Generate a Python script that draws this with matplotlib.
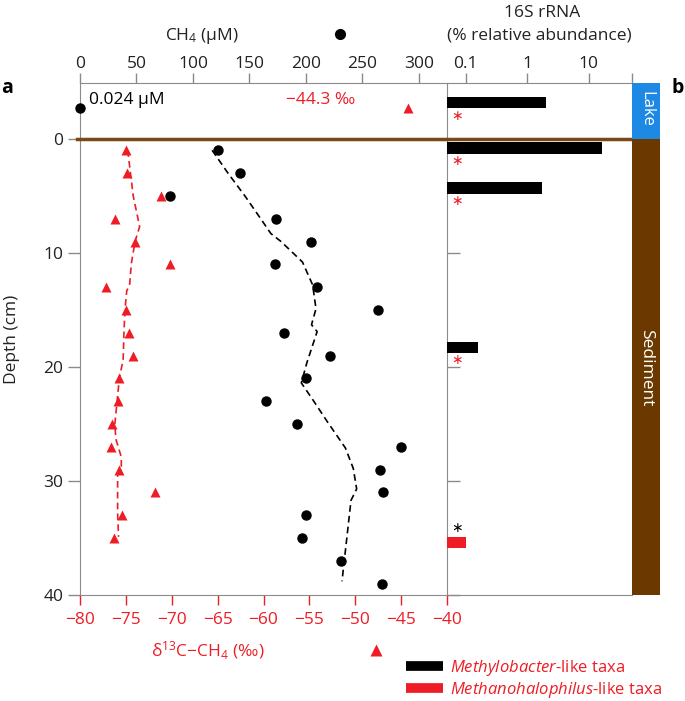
import matplotlib
matplotlib.use('Agg')
import matplotlib.pyplot as plt
from matplotlib.lines import Line2D

plt.rcParams['font.family'] = ['Open Sans', 'DejaVu Sans']
plt.rcParams['mathtext.fontset'] = 'custom'
plt.rcParams['mathtext.rm'] = 'Open Sans'
plt.rcParams['mathtext.it'] = 'Open Sans:italic'
plt.rcParams['mathtext.bf'] = 'Open Sans:bold'
plt.rcParams['axes.unicode_minus'] = True

# ---------------- data ----------------
# lake water sample
lake_depth = [-2.7]
lake_ch4 = [0.024]
lake_d13c = [-44.3]

# CH4 concentration (uM) vs depth (cm)
ch4_depth = [1, 3, 5, 7, 9, 11, 13, 15, 17, 19, 21, 23, 25, 27, 29, 31, 33, 35, 37, 39]
ch4_conc = [122, 142, 80, 174, 205, 173, 210, 264, 181, 221, 200, 165, 192, 284, 266, 268, 200, 197, 231, 267]

# CH4 running trend (dashed black)
ch4_trend_depth = [1, 3, 5, 7, 8.3, 9, 10.8, 12.8, 14.9, 16.3, 16.9, 19.6, 21.4, 23, 24.8, 27.1, 28.9, 30.7, 31.7, 38.8]
ch4_trend = [117, 131, 146, 160, 169, 178, 197, 206, 209, 205, 210, 201, 196, 207, 219, 235, 242, 245, 240, 232]

# d13C-CH4 (permil) vs depth
d13c_depth = [1, 3, 5, 7, 9, 11, 13, 15, 17, 19, 21, 23, 25, 27, 29, 31, 33, 35]
d13c = [-75.0, -74.9, -71.2, -76.2, -74.0, -70.2, -77.2, -75.0, -74.7, -74.2,
        -75.8, -75.9, -76.5, -76.6, -75.8, -71.8, -75.4, -76.3]

# d13C running trend (dashed red)
d13c_trend_depth = [1, 5, 7.7, 9, 10.9, 12.9, 13.3, 15, 16.8, 19.4, 20.9, 25, 26.3, 27.9, 28.7, 29.5, 32.8, 34.9]
d13c_trend = [-74.8, -74.2, -73.5, -74.0, -74.4, -74.6, -74.9, -75.1, -75.2, -75.3,
              -75.7, -76.2, -76.1, -75.5, -75.5, -75.9, -75.9, -75.8]

# 16S rRNA relative abundance (%)
mb_depth = [-3.2, 0.8, 4.3, 18.3]
mb_abund = [2.0, 16.5, 1.75, 0.16]
mh_depth = [35.4]
mh_abund = [0.1]
star_red_depth = [-1.95, 2.0, 5.5, 19.4]
star_black_depth = [34.2]

ch4_ticks = [0, 50, 100, 150, 200, 250, 300]
d13c_ticks = [-80, -75, -70, -65, -60, -55, -50, -45, -40]
depth_ticks = [0, 10, 20, 30, 40]
rrna_ticks = [0.1, 1, 10, 50]
rrna_ticklabels = ['0.1', '1', '10', '']

# ---------------- style ----------------
RED = '#EE1C25'
GRAY = '#8a8a8a'
TXT = '#222222'
BROWN = '#6B3800'
BROWN_LINE = '#7A4716'
LAKE = '#1E88E5'
FS = 12.5

W, H = 685, 701
fig = plt.figure(figsize=(W / 100, H / 100), dpi=100)


def fx(px):
    return px / W


def fy(py):
    return 1 - py / H


Y_TOP, Y_BOT = 83, 595
ax = fig.add_axes([fx(80), fy(Y_BOT), fx(447) - fx(80), fy(Y_TOP) - fy(Y_BOT)])
axb = fig.add_axes([fx(447), fy(Y_BOT), fx(632) - fx(447), fy(Y_TOP) - fy(Y_BOT)])
axc = fig.add_axes([fx(632), fy(Y_BOT), fx(660) - fx(632), fy(Y_TOP) - fy(Y_BOT)])

YLIM = (40, -4.9)

# ---- main panel: d13C (bottom axis) ----
ax.set_xlim(-80, -40)
ax.set_ylim(*YLIM)
ax.plot(d13c_trend, d13c_trend_depth, color=RED, lw=1.2, ls=(0, (4, 2.5)), zorder=2)
ax.plot(d13c, d13c_depth, '^', color=RED, ms=7.5, mec='none', zorder=3)
ax.plot(lake_d13c, lake_depth, '^', color=RED, ms=7.5, mec='none', zorder=3)
ax.set_xticks(d13c_ticks)
ax.set_yticks(depth_ticks)
ax.tick_params(axis='x', colors=RED, direction='out', length=7, width=1, labelsize=FS, pad=5.5)
ax.tick_params(axis='y', color=GRAY, labelcolor=TXT, direction='out', length=9, width=1, labelsize=FS, pad=3)
for s in ['left', 'bottom']:
    ax.spines[s].set_color(GRAY)
ax.spines['right'].set_visible(False)
ax.spines['top'].set_visible(False)
ax.axhline(0, xmin=-0.008, xmax=1, color=BROWN_LINE, lw=2.5, clip_on=False, zorder=4)
ax.text(-57.5, -3.4, '−44.3 ‰', color=RED, fontsize=FS, va='center', ha='left')

# ---- main panel: CH4 (top axis) ----
ax2 = ax.twiny()
ax2.set_xlim(0, 325)
ax2.set_ylim(*YLIM)
ax2.plot(ch4_trend, ch4_trend_depth, color='black', lw=1.2, ls=(0, (4, 2.5)), zorder=2)
ax2.plot(ch4_conc, ch4_depth, 'o', color='black', ms=6.5, zorder=3)
ax2.plot(lake_ch4, lake_depth, 'o', color='black', ms=6.5, zorder=5, clip_on=False)
ax2.set_xticks(ch4_ticks)
ax2.tick_params(axis='x', color=GRAY, labelcolor=TXT, direction='out', length=7, width=1, labelsize=FS, pad=0.8)
for s in ['left', 'bottom', 'right']:
    ax2.spines[s].set_visible(False)
ax2.spines['top'].set_color(GRAY)
ax2.text(8, -3.4, '0.024 µM', color='black', fontsize=FS, va='center', ha='left')

# ---- panel b: 16S rRNA ----
XMIN = 0.05
axb.set_xscale('log')
axb.set_xlim(XMIN, 50)
axb.set_ylim(*YLIM)
axb.barh(mb_depth, [v - XMIN for v in mb_abund], height=1.0, left=XMIN, color='black', zorder=3)
axb.barh(mh_depth, [v - XMIN for v in mh_abund], height=1.0, left=XMIN, color=RED, zorder=3)
for d in star_red_depth:
    axb.text(0.072, d, '∗', color=RED, fontsize=10, ha='center', va='center')
for d in star_black_depth:
    axb.text(0.072, d, '∗', color='black', fontsize=10, ha='center', va='center')
axb.xaxis.tick_top()
axb.set_xticks(rrna_ticks)
axb.set_xticklabels(rrna_ticklabels)
axb.minorticks_off()
axb.tick_params(axis='x', which='both', color=GRAY, labelcolor=TXT, direction='out', length=7, width=1, labelsize=FS, pad=0.8)
axb.set_yticks(depth_ticks)
axb.tick_params(axis='y', color=GRAY, direction='in', length=9, width=1, labelleft=False)
for s in ['left', 'top', 'bottom']:
    axb.spines[s].set_color(GRAY)
axb.spines['right'].set_visible(False)
axb.axhline(0, color=BROWN_LINE, lw=2.5, zorder=4)

# ---- environment column ----
axc.set_xlim(0, 1)
axc.set_ylim(*YLIM)
axc.axhspan(YLIM[1], 0, color=LAKE, lw=0)
axc.axhspan(0, YLIM[0], color=BROWN, lw=0)
axc.text(0.5, -2.6, 'Lake', color='white', rotation=-90, fontsize=12, ha='center', va='center')
axc.text(0.5, 20.1, 'Sediment', color='white', rotation=-90, fontsize=FS, ha='center', va='center')
axc.axis('off')

# ---- labels ----
fig.text(fx(202), fy(36), 'CH$_4$ (µM)', ha='center', va='center', fontsize=FS, color=TXT)
fig.add_artist(Line2D([fx(340)], [fy(34)], marker='o', color='black', ms=7, transform=fig.transFigure))
fig.text(fx(542), fy(13), '16S rRNA', ha='center', va='center', fontsize=FS, color=TXT)
fig.text(fx(539), fy(35), '(% relative abundance)', ha='center', va='center', fontsize=FS, color=TXT)
fig.text(fx(208), fy(651), 'δ$^{13}$C−CH$_4$ (‰)', ha='center', va='center', fontsize=FS, color=RED)
fig.add_artist(Line2D([fx(376)], [fy(650)], marker='^', color=RED, ms=8, mec='none', transform=fig.transFigure))
fig.text(fx(12), fy(339), 'Depth (cm)', rotation=90, ha='center', va='center', fontsize=FS, color=TXT)
fig.text(fx(7), fy(88), 'a', ha='center', va='center', fontsize=14, fontweight='bold')
fig.text(fx(678), fy(88), 'b', ha='center', va='center', fontsize=14, fontweight='bold')

handles = [Line2D([], [], color='black', lw=7, solid_capstyle='butt'),
           Line2D([], [], color=RED, lw=7, solid_capstyle='butt')]
labels = [r'$\mathit{Methylobacter}$-like taxa', r'$\mathit{Methanohalophilus}$-like taxa']
fig.legend(handles, labels, loc='upper left', bbox_to_anchor=(fx(406), fy(658)),
           frameon=False, handlelength=2.2, handletextpad=0.45, labelspacing=0.12,
           fontsize=12, labelcolor=RED, borderaxespad=0, borderpad=0)

fig.savefig('out.png', dpi=100)
